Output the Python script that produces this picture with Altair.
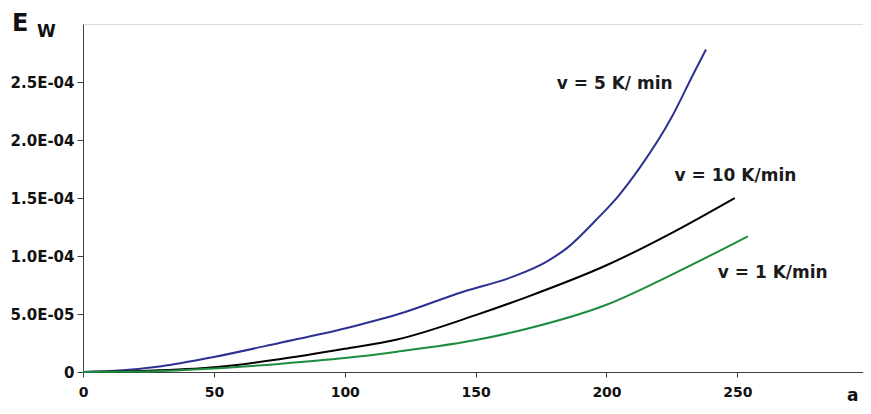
import altair as alt
import pandas as pd

# ---- data ----
x_v5 = [0, 15, 30, 50, 75, 100, 120, 145, 164, 177, 185, 196, 205, 213, 225, 233, 238]
y_v5 = [0, 1.5e-6, 5e-6, 1.3e-5, 2.5e-5, 3.75e-5, 4.95e-5, 6.9e-5, 8.2e-5, 9.5e-5, 1.07e-4, 1.31e-4,
        1.53e-4, 1.77e-4, 2.2e-4, 2.56e-4, 2.78e-4]

x_v10 = [0, 25, 50, 75, 100, 120, 150, 170, 200, 225, 249]
y_v10 = [0, 1e-6, 4e-6, 1.1e-5, 2.0e-5, 2.8e-5, 4.9e-5, 6.5e-5, 9.2e-5, 1.2e-4, 1.5e-4]

x_v1 = [0, 25, 50, 75, 100, 120, 150, 170, 200, 225, 254]
y_v1 = [0, 5e-7, 3e-6, 7e-6, 1.2e-5, 1.75e-5, 2.75e-5, 3.75e-5, 5.8e-5, 8.4e-5, 1.17e-4]

series_names = ["v = 5 K/ min", "v = 10 K/min", "v = 1 K/min"]
series_colors = ["#2e3192", "#000000", "#1e8c3e"]
label_x = [181, 226, 242.5]
label_y = [2.48e-4, 1.69e-4, 8.5e-5]

x_ticks = [0, 50, 100, 150, 200, 250]
y_ticks = [0, 5e-5, 1e-4, 1.5e-4, 2e-4, 2.5e-4]
y_tick_labels = ["0", "5.0E-05", "1.0E-04", "1.5E-04", "2.0E-04", "2.5E-04"]

rows = []
for name, xs, ys in zip(series_names, [x_v5, x_v10, x_v1], [y_v5, y_v10, y_v1]):
    for a, e in zip(xs, ys):
        rows.append({"series": name, "a": a, "E": e})
df = pd.DataFrame(rows)
lab = pd.DataFrame({"series": series_names, "a": label_x, "E": label_y})

FONT = "DejaVu Sans"
label_arr = "[" + ",".join("'%s'" % s for s in y_tick_labels) + "]"

xscale = alt.Scale(domain=[0, 298], nice=False, zero=True)
yscale = alt.Scale(domain=[0, 3e-4], nice=False)
color = alt.Color("series:N", scale=alt.Scale(domain=series_names, range=series_colors), legend=None)

lines = alt.Chart(df).mark_line(strokeWidth=2, interpolate="monotone").encode(
    x=alt.X("a:Q", scale=xscale, title=None,
            axis=alt.Axis(values=x_ticks, grid=False, domainColor="#404040", tickColor="#404040",
                          tickSize=5, labelPadding=8, labelFont=FONT, labelFontSize=14,
                          labelFontWeight="bold", labelColor="#111111", labelFlush=False)),
    y=alt.Y("E:Q", scale=yscale, title=None,
            axis=alt.Axis(values=y_ticks, grid=False, domainColor="#404040", tickColor="#404040",
                          tickSize=6, labelPadding=3, labelFont=FONT, labelFontSize=15,
                          labelFontWeight="bold", labelColor="#111111",
                          labelExpr=label_arr + "[round(datum.value/5e-5)]")),
    color=color,
    order="a:Q",
)

labels = alt.Chart(lab).mark_text(align="left", baseline="middle", font=FONT, fontSize=17,
                                  fontWeight="bold", color="#1a1a1a").encode(
    x=alt.X("a:Q", scale=xscale),
    y=alt.Y("E:Q", scale=yscale),
    text="series:N",
)

e_text = alt.Chart(pd.DataFrame({"t": ["E"]})).mark_text(align="left", baseline="alphabetic", font=FONT,
                                                         fontSize=24, fontWeight="bold", color="#111111").encode(
    x=alt.value(-71), y=alt.value(7), text="t:N")
w_text = alt.Chart(pd.DataFrame({"t": ["W"]})).mark_text(align="left", baseline="alphabetic", font=FONT,
                                                         fontSize=17, fontWeight="bold", color="#111111").encode(
    x=alt.value(-46), y=alt.value(13), text="t:N")
a_text = alt.Chart(pd.DataFrame({"t": ["a"]})).mark_text(align="left", baseline="middle", font=FONT,
                                                         fontSize=17, fontWeight="bold", color="#111111").encode(
    x=alt.value(764), y=alt.value(372), text="t:N")

chart = alt.layer(lines, labels, e_text, w_text, a_text).properties(
    width=780, height=348,
    autosize=alt.AutoSizeParams(type="none"),
    padding={"left": 75, "top": 16, "right": 0, "bottom": 34},
).configure_view(stroke=None).configure(background="white")

chart.save("out.html", embed_options={"renderer": "svg", "actions": False})
